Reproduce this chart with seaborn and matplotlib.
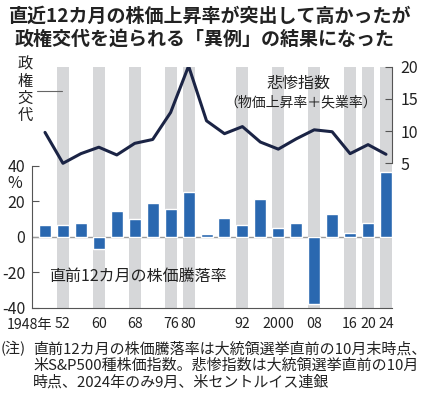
import numpy as np
import pandas as pd
import matplotlib.pyplot as plt
import seaborn as sns

# US presidential election years
years = list(range(1948, 2025, 4))
# stock price change over the 12 months before the election (%)
stock_change = [6.8, 6.8, 7.5, -7.1, 14.6, 10.1, 18.8, 15.8, 25.4, 1.3,
                10.7, 6.6, 21.4, 4.7, 7.5, -37.9, 12.8, 2.3, 7.5, 36.4]
# misery index (inflation + unemployment)
misery_index = [9.8, 5.0, 6.5, 7.5, 6.3, 8.1, 8.7, 12.9, 20.1, 11.6,
                9.6, 10.7, 8.3, 7.2, 8.8, 10.2, 9.9, 6.5, 7.9, 6.4]
# elections that changed the ruling party
change_years = [1952, 1960, 1968, 1976, 1980, 1992, 2000, 2008, 2016, 2020, 2024]
xtick_years = [1948, 1952, 1960, 1968, 1976, 1980, 1992, 2000, 2008, 2016, 2020, 2024]
xtick_labels = ["1948年", "52", "60", "68", "76", "80", "92", "2000", "08", "16", "20", "24"]

df = pd.DataFrame({"year": years, "stock": stock_change, "misery": misery_index})

sns.set_style("white")
plt.rcParams['font.family'] = ['Noto Sans CJK JP', 'DejaVu Sans']
plt.rcParams['axes.unicode_minus'] = False

TEXT = '#222222'
BAR = '#2a68b0'
LINE = '#1b2445'
BAND = '#d6d7d9'
AXC = '#555555'

W, H = 425, 394


def fx(x):
    return x / W


def fy(y):
    return 1 - y / H


fig = plt.figure(figsize=(W / 100, H / 100), dpi=100)
ax = fig.add_axes([fx(32), fy(307.7), 360 / W, 241 / H])

for y in change_years:
    ax.axvspan(y - 1.34, y + 1.34, color=BAND, lw=0, zorder=0)
ax.axhline(0, color='#9a9a9a', lw=1, zorder=1)

sns.barplot(data=df, x="year", y="stock", native_scale=True, width=0.67,
            color=BAR, saturation=1, ax=ax, zorder=2)

ax.set_xlim(1945.1, 2025.34)
ax.set_ylim(-40, 95.8)
ax.set_xlabel("")
ax.set_ylabel("")
ax.set_yticks([-40, -20, 0, 20, 40])
ax.set_yticklabels(["-40", "-20", "0", "20", "40"], fontsize=11.5)
ax.set_xticks(xtick_years)
ax.set_xticklabels([""] + xtick_labels[1:], fontsize=10.2)
ax.set_xticks([y for y in years if y not in xtick_years], minor=True)
ax.tick_params(axis='y', direction='in', length=5, width=0.8,
               pad=5, colors=AXC, labelcolor=TEXT)
ax.tick_params(axis='x', which='both', direction='in', length=3, width=0.8,
               pad=6.5, colors=AXC, labelcolor=TEXT)
for s in ['top', 'right']:
    ax.spines[s].set_visible(False)
ax.spines['left'].set_bounds(-40, 40)
for s in ['left', 'bottom']:
    ax.spines[s].set_color(AXC)
    ax.spines[s].set_linewidth(0.8)

ax2 = ax.twinx()
sns.lineplot(data=df, x="year", y="misery", color=LINE, lw=2.2, ax=ax2)
ax2.set_ylim(-17.42, 20)
ax2.set_yticks([5, 10, 15, 20])
ax2.set_yticklabels(["5", "10", "15", "20"], fontsize=11.5)
ax2.set_ylabel("")
ax2.tick_params(axis='y', direction='in', length=5, width=0.8,
                pad=6, colors=AXC, labelcolor=TEXT)
for s in ['top', 'left', 'bottom']:
    ax2.spines[s].set_visible(False)
ax2.spines['right'].set_bounds(5, 20)
ax2.spines['right'].set_color(AXC)
ax2.spines['right'].set_linewidth(0.8)

# first x label sits left of its tick
fig.text(fx(52), fy(325.5), xtick_labels[0], ha='right', va='center',
         fontsize=10.2, color=TEXT)

# title
fig.text(fx(210), fy(16), "直近12カ月の株価上昇率が突出して高かったが",
         ha='center', va='center', fontsize=13.7, fontweight='bold', color=TEXT)
fig.text(fx(205), fy(39), "政権交代を迫られる「異例」の結果になった",
         ha='center', va='center', fontsize=13.7, fontweight='bold', color=TEXT)

# annotations
fig.text(fx(25), fy(90), "政\n権\n交\n代", ha='center', va='center',
         fontsize=11, color=TEXT, linespacing=1.0)
fig.add_artist(plt.Line2D([fx(37), fx(62)], [fy(90.7), fy(90.7)],
                          color='#666666', lw=0.8))
fig.text(fx(15), fy(183), "%", ha='center', va='center', fontsize=11.5, color=TEXT)
fig.text(fx(298), fy(83), "悲惨指数", ha='center', va='center',
         fontsize=11.5, color=TEXT)
fig.text(fx(301), fy(103), "（物価上昇率＋失業率）", ha='center', va='center',
         fontsize=10, color=TEXT)
fig.text(fx(49), fy(276), "直前12カ月の株価騰落率", ha='left', va='center',
         fontsize=11.5, color=TEXT)

# footnote
fig.text(fx(1), fy(349), "(注)", ha='left', va='center', fontsize=10.8, color=TEXT)
fig.text(fx(33), fy(349), "直前12カ月の株価騰落率は大統領選挙直前の10月末時点、",
         ha='left', va='center', fontsize=10.8, color=TEXT)
fig.text(fx(33), fy(365.5), "米S&P500種株価指数。悲惨指数は大統領選挙直前の10月",
         ha='left', va='center', fontsize=10.8, color=TEXT)
fig.text(fx(33), fy(382), "時点、2024年のみ9月、米セントルイス連銀",
         ha='left', va='center', fontsize=10.8, color=TEXT)

fig.savefig("out.png", dpi=100)
